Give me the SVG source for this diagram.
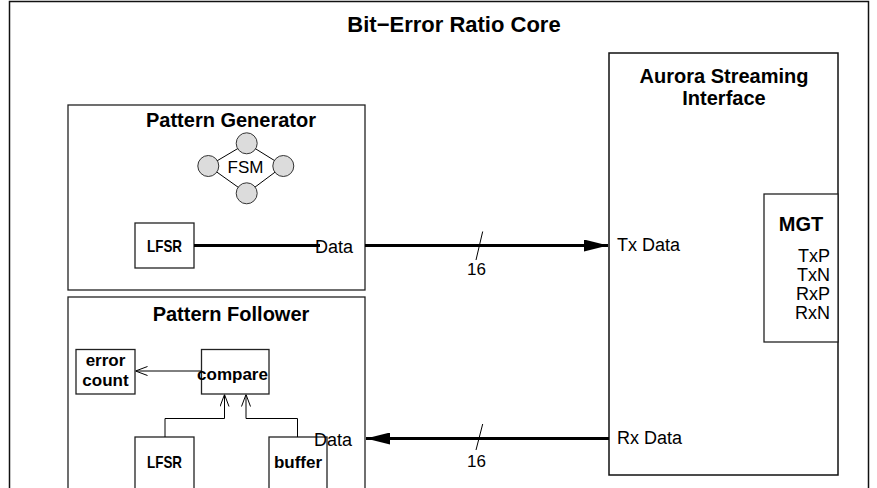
<svg xmlns="http://www.w3.org/2000/svg" width="877" height="488" viewBox="0 0 877 488">
  <defs>
    <marker id="solid" viewBox="0 0 24 12" refX="24" refY="6" markerWidth="24" markerHeight="12" markerUnits="userSpaceOnUse" orient="auto">
      <path d="M0,0 L24,6 L0,12 Z" fill="#000"/>
    </marker>
    <marker id="open" viewBox="0 0 12 10" refX="12" refY="5" markerWidth="12" markerHeight="10" markerUnits="userSpaceOnUse" orient="auto">
      <path d="M0,0.5 L12,5 L0,9.5" fill="none" stroke="#000" stroke-width="1"/>
    </marker>
  </defs>
  <style>
    .box { fill: #fff; stroke: #222; stroke-width: 1.3; }
    .frame { fill: none; stroke: #111; stroke-width: 1.5; }
    .state { fill: #dcdcdc; stroke: #333; stroke-width: 1; }
    .head { font-family: "Liberation Sans", Arial, sans-serif; font-weight: bold; font-size: 20px; fill: #000; text-anchor: middle; }
    .lbl { font-family: "Liberation Sans", Arial, sans-serif; font-weight: bold; font-size: 17px; fill: #000; text-anchor: middle; }
    .txt { font-family: "Liberation Sans", Arial, sans-serif; font-size: 18px; fill: #000; }
    .bus { stroke: #000; stroke-width: 3; fill: none; }
    .thin { stroke: #000; stroke-width: 1; fill: none; }
  </style>
  <rect width="877" height="488" fill="#fff"/>

  <g id="core">
    <rect class="frame" x="9.5" y="1.5" width="859" height="500"/>
    <text class="head" x="454" y="32" style="font-size:22px">Bit−Error Ratio Core</text>
  </g>

  <g id="pattern-generator">
    <rect class="box" x="68" y="105" width="297" height="185"/>
    <text class="head" x="231" y="127">Pattern Generator</text>
  </g>

  <g id="fsm">
    <line class="thin" x1="246.7" y1="143.3" x2="283.3" y2="166" stroke="#333"/>
    <line class="thin" x1="283.3" y1="166" x2="246.7" y2="193.3" stroke="#333"/>
    <line class="thin" x1="246.7" y1="193.3" x2="208.3" y2="166" stroke="#333"/>
    <line class="thin" x1="208.3" y1="166" x2="246.7" y2="143.3" stroke="#333"/>
    <circle class="state" cx="246.7" cy="143.3" r="10.5"/>
    <circle class="state" cx="208.3" cy="166" r="10.5"/>
    <circle class="state" cx="283.3" cy="166" r="10.5"/>
    <circle class="state" cx="246.7" cy="193.3" r="10.5"/>
    <text class="txt" x="245.5" y="173" text-anchor="middle" style="font-size:17px">FSM</text>
  </g>

  <g id="gen-lfsr">
    <rect class="box" x="135" y="223" width="59" height="45"/>
    <text class="lbl" x="164.5" y="252" textLength="35" lengthAdjust="spacingAndGlyphs">LFSR</text>
  </g>

  <g id="pattern-follower">
    <rect class="box" x="68" y="297" width="297" height="205"/>
    <text class="head" x="231" y="321">Pattern Follower</text>
  </g>

  <g id="error-count">
    <rect class="box" x="76" y="349.5" width="59" height="44.5"/>
    <text class="lbl" x="105.5" y="366">error</text>
    <text class="lbl" x="105.5" y="386">count</text>
  </g>

  <g id="compare">
    <rect class="box" x="201.5" y="349.5" width="67.5" height="44.5"/>
  </g>

  <g id="fol-lfsr">
    <rect class="box" x="135" y="437" width="59" height="70"/>
    <text class="lbl" x="164.5" y="468" textLength="35" lengthAdjust="spacingAndGlyphs">LFSR</text>
  </g>

  <g id="buffer">
    <rect class="box" x="269" y="437" width="58" height="70"/>
    <text class="lbl" x="298" y="468">buffer</text>
  </g>

  <g id="aurora">
    <rect class="box" x="609" y="53" width="229" height="422" style="stroke:#111;stroke-width:1.5"/>
    <text class="head" x="724" y="83">Aurora Streaming</text>
    <text class="head" x="724" y="105">Interface</text>
    <text class="txt" x="617" y="251">Tx Data</text>
    <text class="txt" x="617" y="444">Rx Data</text>
  </g>

  <g id="mgt">
    <rect class="box" x="764" y="194" width="74" height="148"/>
    <text class="head" x="801" y="231">MGT</text>
    <text class="txt" x="830" y="262" text-anchor="end">TxP</text>
    <text class="txt" x="830" y="281" text-anchor="end">TxN</text>
    <text class="txt" x="830" y="299.5" text-anchor="end">RxP</text>
    <text class="txt" x="830" y="318.5" text-anchor="end">RxN</text>
  </g>

  <g id="connectors">
    <line class="bus" x1="194" y1="245.5" x2="320" y2="245.5"/>
    <line class="bus" x1="365" y1="245.5" x2="608" y2="245.5" marker-end="url(#solid)"/>
    <line class="thin" x1="482.7" y1="231.5" x2="476" y2="260"/>
    <text class="txt" x="476.5" y="275" text-anchor="middle" style="font-size:17px">16</text>
    <text class="txt" x="315" y="253">Data</text>

    <line class="bus" x1="609" y1="438.5" x2="366" y2="438.5" marker-end="url(#solid)"/>
    <line class="thin" x1="482.7" y1="424" x2="476" y2="450"/>
    <text class="txt" x="476.5" y="467" text-anchor="middle" style="font-size:17px">16</text>
    <text class="txt" x="314" y="446">Data</text>

    <line class="thin" x1="201.5" y1="371" x2="135.5" y2="371" marker-end="url(#open)"/>
    <polyline class="thin" points="165,437 165,418.5 224.5,418.5 224.5,394.5" marker-end="url(#open)"/>
    <polyline class="thin" points="297.5,437 297.5,418.5 246,418.5 246,394.5" marker-end="url(#open)"/>
    <text class="lbl" x="232.5" y="380">compare</text>
  </g>
</svg>
